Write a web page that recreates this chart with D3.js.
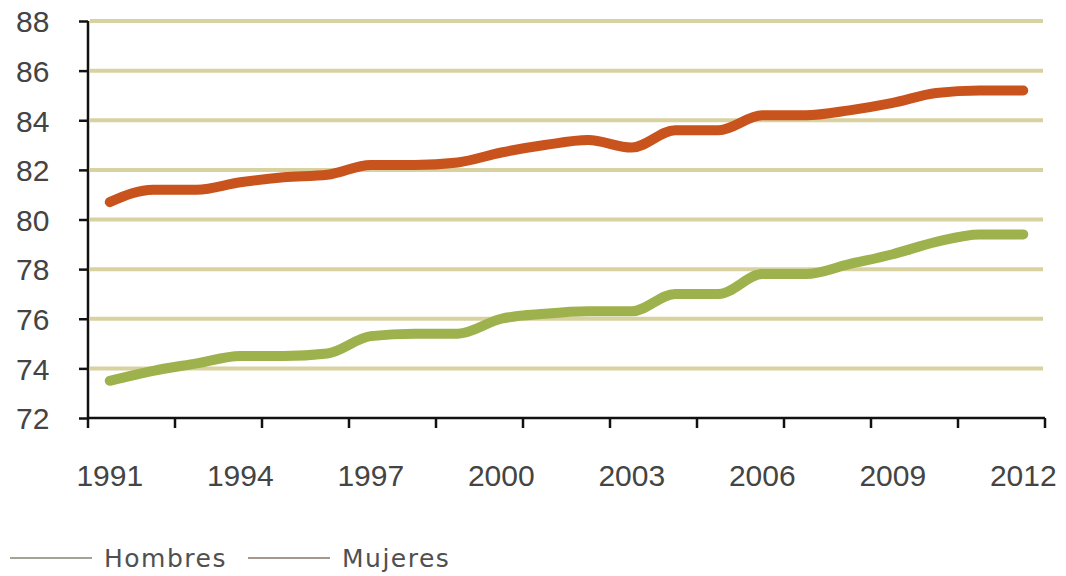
<!DOCTYPE html>
<html>
<head>
<meta charset="utf-8">
<script src="https://cdn.jsdelivr.net/npm/d3@7"></script>
<style>
  body { margin: 0; background: #fff; }
  svg { display: block; }
</style>
</head>
<body>
<svg id="chart" width="1066" height="576"></svg>
<script>
const years = d3.range(1991, 2013);
const hombres = [73.5, 73.9, 74.2, 74.5, 74.5, 74.6, 75.3, 75.4, 75.4, 76.0, 76.2, 76.3,
                 76.3, 77.0, 77.0, 77.8, 77.8, 78.2, 78.6, 79.1, 79.4, 79.4];
const mujeres = [80.7, 81.2, 81.2, 81.5, 81.7, 81.8, 82.2, 82.2, 82.3, 82.7, 83.0, 83.2,
                 82.9, 83.6, 83.6, 84.2, 84.2, 84.4, 84.7, 85.1, 85.2, 85.2];
const yTicks = [72, 74, 76, 78, 80, 82, 84, 86, 88];
const xLabels = [1991, 1994, 1997, 2000, 2003, 2006, 2009, 2012];
const seriesNames = ["Hombres", "Mujeres"];

const colors = {Hombres: "#9db14c", Mujeres: "#c9531d"};
const legendColors = {Hombres: "#858672", Mujeres: "#86746a"};

let svg = d3.select("#chart");

let plotLeft = 88, plotRight = 1045, plotTop = 21, plotBottom = 418;

let x = d3.scaleBand().domain(years).range([plotLeft, plotRight]);
let y = d3.scaleLinear().domain([72, 88]).range([plotBottom, plotTop]);
let cx = (yr) => x(yr) + x.bandwidth() / 2;

// grid
svg.append("g")
    .selectAll("line")
    .data(yTicks.filter(t => t != 72))
    .join("line")
    .attr("x1", plotLeft + 2)
    .attr("x2", plotRight - 2)
    .attr("y1", d => y(d))
    .attr("y2", d => y(d))
    .attr("stroke", "#d8d1a0")
    .attr("stroke-width", 4);

// y axis
let yAxis = svg.append("g")
    .attr("transform", `translate(${plotLeft},0)`)
    .call(d3.axisLeft(y).tickValues(yTicks).tickSize(9).tickFormat(d3.format("d")));
yAxis.select(".domain").attr("stroke", "#111").attr("stroke-width", 2.5).attr("d", `M0,${plotTop}V${plotBottom}`);
yAxis.selectAll(".tick line").attr("stroke", "#111").attr("stroke-width", 2.5);
yAxis.selectAll("text")
    .attr("font-family", "Arial, 'Liberation Sans', sans-serif")
    .attr("font-size", 30)
    .attr("fill", "#444")
    .attr("text-anchor", "start")
    .attr("x", -72)
    .attr("dy", "0.36em");

// x axis: ticks between every second category
let tickPos = d3.range(0, years.length + 1, 2).map(i => plotLeft + i * x.step());
let xAxis = svg.append("g");
xAxis.append("line")
    .attr("x1", plotLeft).attr("x2", plotRight)
    .attr("y1", plotBottom).attr("y2", plotBottom)
    .attr("stroke", "#111").attr("stroke-width", 2.5);
xAxis.selectAll(".xt")
    .data(tickPos)
    .join("line")
    .attr("class", "xt")
    .attr("x1", d => d).attr("x2", d => d)
    .attr("y1", plotBottom).attr("y2", plotBottom + 10)
    .attr("stroke", "#111").attr("stroke-width", 2.5);
xAxis.selectAll("text")
    .data(xLabels)
    .join("text")
    .attr("x", d => cx(d))
    .attr("y", 486)
    .attr("text-anchor", "middle")
    .attr("font-family", "Arial, 'Liberation Sans', sans-serif")
    .attr("font-size", 30)
    .attr("fill", "#444")
    .text(d => d);

// lines
let line = d3.line()
    .x((d, i) => cx(years[i]))
    .y(d => y(d))
    .curve(d3.curveMonotoneX);

let seriesData = {Hombres: hombres, Mujeres: mujeres};
for (let name of seriesNames) {
    svg.append("path")
        .datum(seriesData[name])
        .attr("fill", "none")
        .attr("stroke", colors[name])
        .attr("stroke-width", 10)
        .attr("stroke-linecap", "round")
        .attr("stroke-linejoin", "round")
        .attr("d", line);
}

// legend
let legendX = [10, 248];
seriesNames.forEach((name, i) => {
    let g = svg.append("g").attr("transform", `translate(${legendX[i]},558)`);
    g.append("line")
        .attr("x1", 0).attr("x2", 82)
        .attr("y1", 0).attr("y2", 0)
        .attr("stroke", legendColors[name])
        .attr("stroke-width", 1.6);
    g.append("text")
        .attr("x", 94)
        .attr("y", 9)
        .attr("font-family", "'DejaVu Sans', Verdana, sans-serif")
        .attr("font-size", 25)
        .attr("letter-spacing", 1.5)
        .attr("fill", "#505050")
        .text(name);
});
</script>
</body>
</html>
